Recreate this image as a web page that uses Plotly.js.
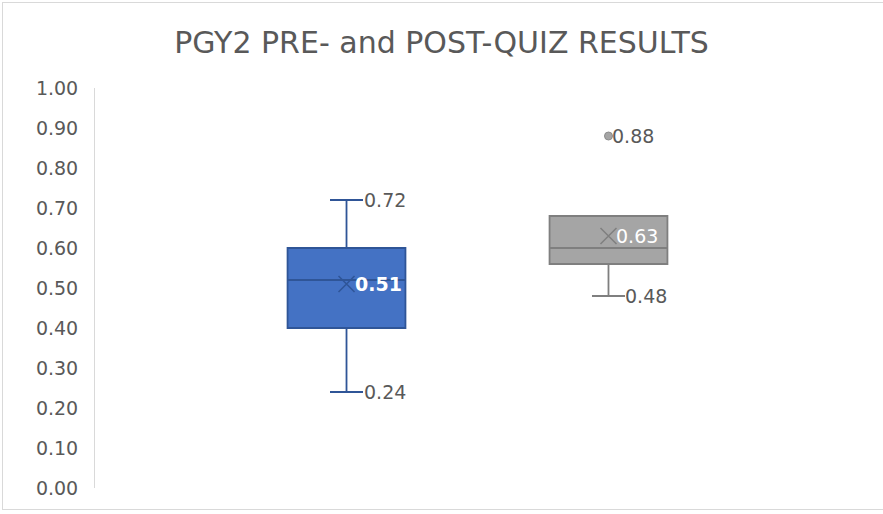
<!DOCTYPE html>
<html>
<head>
<meta charset="utf-8">
<script src="https://cdn.plot.ly/plotly-3.0.1.min.js"></script>
<style>
  html, body { margin: 0; padding: 0; background: #fff; }
  #wrap { position: relative; width: 883px; height: 514px; overflow: hidden; }
  #chart { width: 883px; height: 514px; }
  #frame { position: absolute; left: 2px; top: 2px; width: 900px; height: 508px;
           border: 1px solid #d9d9d9; pointer-events: none; box-sizing: border-box; }
</style>
</head>
<body>
<div id="wrap"><div id="chart"></div><div id="frame"></div></div>
<script>
// ---- data ----
const categories = ['PRE', 'POST'];
const lowerFence = [0.24, 0.48];
const q1 = [0.40, 0.56];
const median = [0.52, 0.60];
const q3 = [0.60, 0.68];
const upperFence = [0.72, 0.68];
const means = [0.51, 0.63];
const outlierCat = ['POST'];
const outlierVal = [0.88];
const titleText = 'PGY2 PRE- and POST-QUIZ RESULTS';

// ---- styles ----
const fills = ['#4472c4', '#a5a5a5'];
const lines = ['#2f5597', '#7f7f7f'];
const FONT = 'DejaVu Sans, sans-serif';
const TXT = '#595959';

const traces = [];
categories.forEach((c, i) => {
  traces.push({
    type: 'box',
    x: [c], q1: [q1[i]], median: [median[i]], q3: [q3[i]],
    lowerfence: [lowerFence[i]], upperfence: [upperFence[i]],
    fillcolor: fills[i],
    line: { color: lines[i], width: 1.8 },
    whiskerwidth: 0.28,
    boxpoints: false,
    hoverinfo: 'skip',
    showlegend: false
  });
  traces.push({
    type: 'scatter', mode: 'markers',
    x: [c], y: [means[i]],
    marker: { symbol: 'x-thin-open', size: 16, color: lines[i],
              line: { color: lines[i], width: 1.5 } },
    hoverinfo: 'skip', showlegend: false
  });
});
traces.push({
  type: 'scatter', mode: 'markers',
  x: outlierCat, y: outlierVal,
  marker: { symbol: 'circle', size: 8, color: '#a5a5a5', line: { color: '#8c8c8c', width: 1 } },
  hoverinfo: 'skip', showlegend: false
});

// ---- labels ----
const annotations = [];
function lab(x, y, xshift, color, bold) {
  annotations.push({
    x: x, y: y, xref: 'x', yref: 'y', xanchor: 'left', yanchor: 'middle',
    xshift: xshift, showarrow: false,
    text: bold ? '<b>' + y.toFixed(2) + '</b>' : y.toFixed(2),
    font: { family: FONT, size: 19, color: color }
  });
}
categories.forEach((c, i) => {
  if (upperFence[i] > q3[i]) lab(c, upperFence[i], 15, TXT, false);
  lab(c, lowerFence[i], 15, TXT, false);
  lab(c, means[i], 6, '#ffffff', i === 0);
});
outlierCat.forEach((c, k) => lab(c, outlierVal[k], 2, TXT, false));

const layout = {
  width: 883, height: 514,
  margin: { l: 95, r: 23, t: 88, b: 26 },
  paper_bgcolor: '#ffffff', plot_bgcolor: '#ffffff',
  title: { text: titleText, x: 0.5, xanchor: 'center', y: 0.918, yanchor: 'middle',
           font: { family: FONT, size: 30, color: TXT } },
  boxgap: 0.55,
  boxgroupgap: 0,
  xaxis: { type: 'category', range: [-0.96, 1.96], showticklabels: false, showline: false,
           showgrid: false, zeroline: false, ticks: '' },
  yaxis: { range: [0, 1], dtick: 0.1, tick0: 0, tickformat: '.2f', showgrid: false,
           zeroline: false, showline: true, linecolor: '#d9d9d9', linewidth: 1,
           ticks: '', ticklabelstandoff: 12,
           tickfont: { family: FONT, size: 19, color: TXT } },
  annotations: annotations
};

Plotly.newPlot('chart', traces, layout, { staticPlot: true, displayModeBar: false });
</script>
</body>
</html>
